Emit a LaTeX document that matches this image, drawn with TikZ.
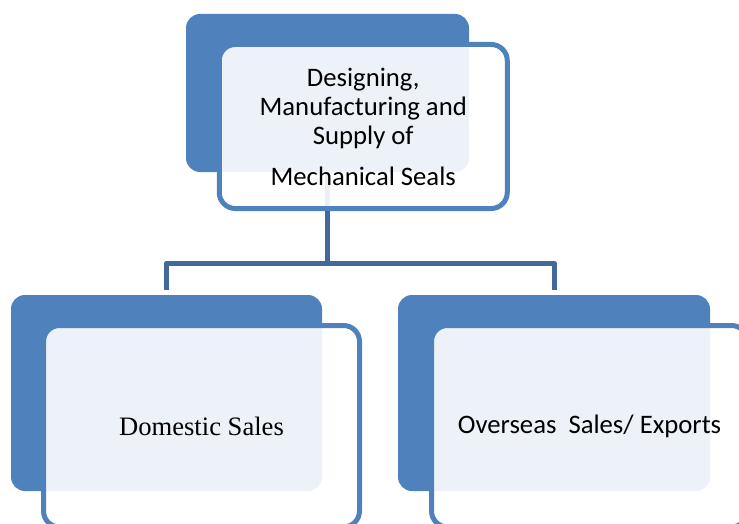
\documentclass[tikz,border=0pt]{standalone}
\usepackage{fontspec}
\setmainfont{Carlito}
\newfontfamily\domesticfont{Liberation Serif}
\definecolor{sealblue}{RGB}{79,129,189}
\definecolor{linkblue}{RGB}{65,105,155}
\begin{document}
\begin{tikzpicture}[x=1pt,y=-1pt,
    back/.style={rectangle,rounded corners=14pt,fill=sealblue,inner sep=0pt},
    front/.style={rectangle,rounded corners=16pt,draw=sealblue,line width=5pt,
      fill=white,fill opacity=0.9,text opacity=1,inner sep=0pt,align=center,
      font=\fontsize{26.7}{29}\selectfont},
    link/.style={draw=linkblue,line width=5pt,line join=round}]

  \useasboundingbox (0,0) rectangle (739,524);
  \clip (0,0) rectangle (739,524);

  \begin{scope}[every node/.style=back]
    \node[minimum width=283pt,minimum height=158pt] (mainback) at (327.5,93)  {};
    \node[minimum width=311pt,minimum height=196pt] (domback)  at (166.5,393) {};
    \node[minimum width=312pt,minimum height=196pt] (expback)  at (554,393)   {};
  \end{scope}

  \coordinate (hub) at (327.5,263);
  \path[link] (mainback.south) -- (hub);
  \path[link,shorten >=5pt] (hub) -| (domback.north);
  \path[link,shorten >=5pt] (hub) -| (expback.north);

  \begin{scope}[every node/.style=front]
    \node[minimum width=288pt,minimum height=164pt] (main) at (363.25,126.5)
      {Designing,\\Manufacturing and\\Supply of\\[12pt]Mechanical Seals};
    \node[minimum width=316pt,minimum height=201.5pt,
      font=\domesticfont\fontsize{26.6}{30}\selectfont] (domestic) at (201.5,426.25)
      {Domestic Sales};
    \node[minimum width=316pt,minimum height=201.5pt] (export) at (589.5,426.25)
      {Overseas\ \ Sales/ Exports};
  \end{scope}

\end{tikzpicture}
\end{document}
